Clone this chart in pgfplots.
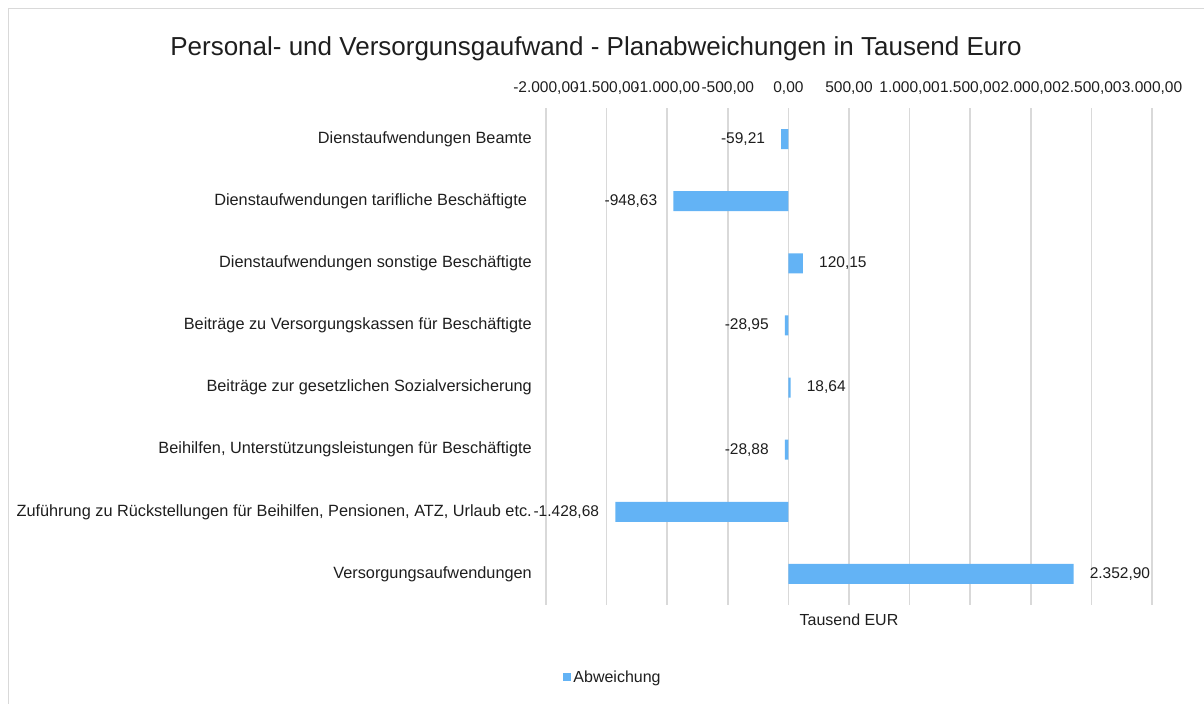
\documentclass[border=0pt]{standalone}
\usepackage{pgfplots}
\pgfplotsset{compat=1.18}
\usepackage{fontspec}
\setmainfont{Liberation Sans}
\definecolor{barblue}{RGB}{99,179,245}
\definecolor{gridgrey}{RGB}{217,217,217}
\definecolor{txt}{RGB}{30,30,30}
\begin{document}
\begin{tikzpicture}[x=1bp,y=1bp]
\path[use as bounding box] (0,0) rectangle (1204,704);
\draw[gridgrey, line width=1.5bp] (8.5,-2) -- (8.5,695.5) -- (1206,695.5);
\node[font=\fontsize{26bp}{30bp}\selectfont, text=txt] at (596,655) {Personal- und Versorgunsgaufwand - Planabweichungen in Tausend Euro};
\begin{axis}[
  at={(546bp,99bp)}, anchor=south west,
  scale only axis, width=606bp, height=497bp,
  xbar, bar width=20bp,
  xmin=-2000, xmax=3000, ymin=0.5, ymax=8.5,
  xtick={-2000,-1500,...,3000},
  ytick={1,...,8},
  yticklabels={Versorgungsaufwendungen,
    {Zuführung zu Rückstellungen für Beihilfen, Pensionen, ATZ, Urlaub etc.},
    {Beihilfen, Unterstützungsleistungen für Beschäftigte},
    Beiträge zur gesetzlichen Sozialversicherung,
    Beiträge zu Versorgungskassen für Beschäftigte,
    Dienstaufwendungen sonstige Beschäftigte,
    Dienstaufwendungen tarifliche Beschäftigte\hspace*{0.3em},
    Dienstaufwendungen Beamte},
  xticklabel pos=right,
  axis line style={draw=none},
  major tick length=0pt,
  xmajorgrids, grid style={gridgrey, line width=1.5bp},
  /pgf/number format/use comma,
  /pgf/number format/1000 sep={.},
  /pgf/number format/fixed,
  /pgf/number format/fixed zerofill,
  /pgf/number format/precision=2,
  /pgf/number format/assume math mode=true,
  xticklabel style={font=\fontsize{15.5bp}{18bp}\selectfont, text=txt, inner sep=0pt, yshift=13bp},
  yticklabel style={font=\fontsize{16.3bp}{19bp}\selectfont, text=txt, inner sep=0pt, anchor=east, xshift=-14bp},
  xlabel={Tausend EUR},
  xlabel style={at={(axis description cs:0.5,0)}, anchor=north, inner sep=0pt, yshift=-9bp, font=\fontsize{16bp}{19bp}\selectfont, text=txt},
  nodes near coords,
  nodes near coords align=horizontal,
  every node near coord/.append style={font=\fontsize{15.5bp}{18bp}\selectfont, text=txt, inner xsep=16bp, inner ysep=0pt},
  legend style={at={(0.1106,-0.1449)}, anchor=center, draw=none, fill=none, font=\fontsize{16bp}{19bp}\selectfont, text=txt, inner sep=0pt},
  legend image code/.code={\fill[barblue] (0bp,-4bp) rectangle (8bp,4bp);},
]
\addplot[fill=barblue, draw=none] coordinates {
  (2352.90,1) (-1428.68,2) (-28.88,3) (18.64,4) (-28.95,5) (120.15,6) (-948.63,7) (-59.21,8)};
\legend{Abweichung}
\end{axis}
\end{tikzpicture}
\end{document}
